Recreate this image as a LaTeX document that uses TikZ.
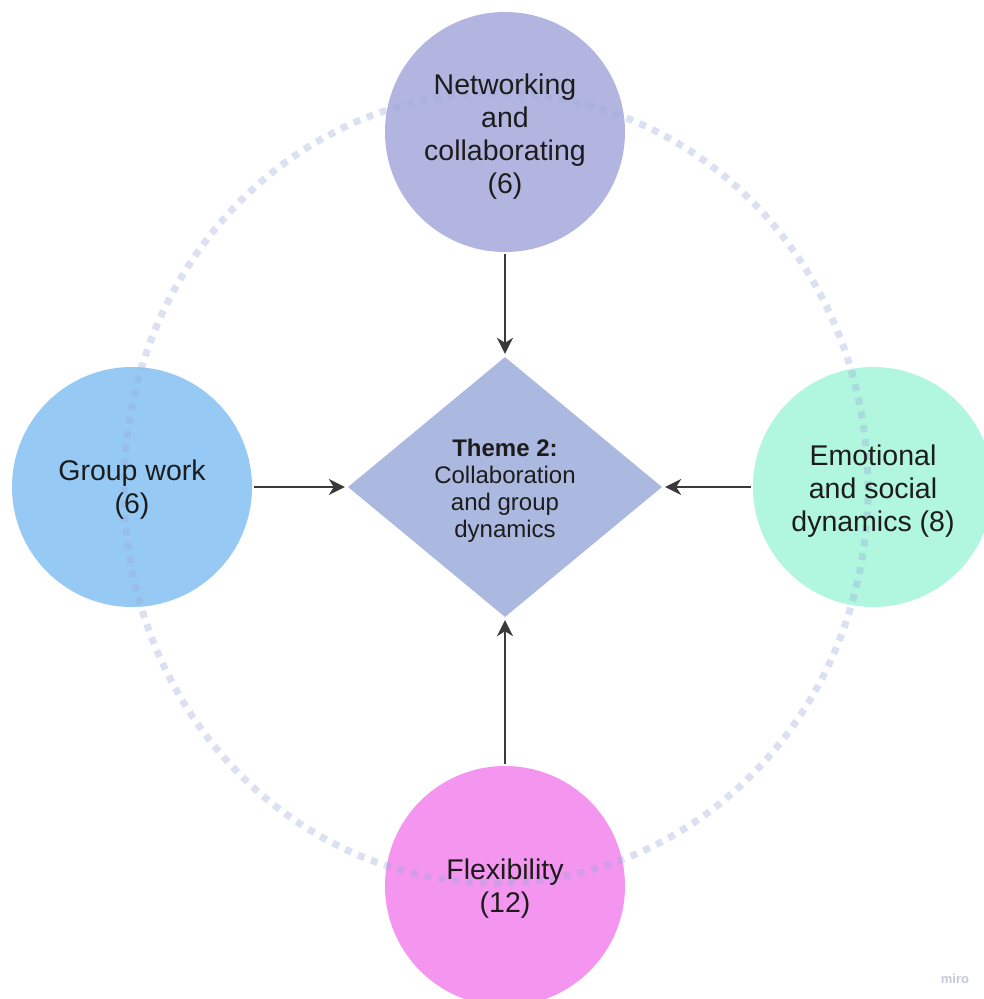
\documentclass[tikz,border=0pt]{standalone}
\usepackage{fontspec}
\setmainfont{Liberation Sans}
\usetikzlibrary{shapes.geometric,arrows.meta}
\pgfdeclarelayer{fills}
\pgfdeclarelayer{ring}
\pgfsetlayers{fills,ring,main}
\definecolor{netc}{HTML}{B3B5E1}
\definecolor{groupc}{HTML}{96CAF4}
\definecolor{emoc}{HTML}{B1F6DF}
\definecolor{flexc}{HTML}{F496EF}
\definecolor{themec}{HTML}{ABB8DF}
\definecolor{ringc}{HTML}{9AAAD8}
\definecolor{inkc}{HTML}{1C1C1C}
\definecolor{arrc}{HTML}{3A3A3A}
\definecolor{markc}{HTML}{C5C8D6}
\tikzset{
  bubble/.style={circle, minimum size=240pt, inner sep=0pt},
  bubbletext/.style={align=center, inner sep=0pt, text=inkc,
    font=\fontsize{28.5}{33}\selectfont},
  themebox/.style={diamond, fill=themec, minimum width=314pt, minimum height=260pt,
    inner sep=0pt},
  themetext/.style={align=center, inner sep=0pt, text=inkc,
    font=\fontsize{24}{27}\selectfont},
  arr/.style={draw=arrc, line width=2pt,
    -{Stealth[length=16pt, width=16pt, inset=5pt]},
    shorten <=2pt, shorten >=3pt},
  ringline/.style={draw=ringc, opacity=0.35, line width=7pt,
    dash pattern=on 7pt off 7pt}
}
\begin{document}
\begin{tikzpicture}[x=1pt, y=-1pt]
  \useasboundingbox (0,0) rectangle (983,999);

  % outer topic circles
  \node[bubble] (net) at (505,132) {};
  \node[bubble] (group) at (132,487) {};
  \node[bubble] (emo) at (873,487) {};
  \node[bubble] (flex) at (505,886) {};

  % circle fills below the dotted ring
  \begin{pgfonlayer}{fills}
    \fill[netc] (net.center) circle (120pt);
    \fill[groupc] (group.center) circle (120pt);
    \fill[emoc] (emo.center) circle (120pt);
    \fill[flexc] (flex.center) circle (120pt);
  \end{pgfonlayer}

  % dotted ring through the four topics
  \begin{pgfonlayer}{ring}
    \coordinate (ringc) at (496,488);
    \draw[ringline] (ringc) ellipse [x radius=372pt, y radius=395pt];
  \end{pgfonlayer}

  % topic labels
  \node[bubbletext] (net-t) at ([yshift=-5pt]net.center) {Networking\\and\\collaborating\\(6)};
  \node[bubbletext] (group-t) at ([yshift=-3pt]group.center) {Group work\\(6)};
  \node[bubbletext] (emo-t) at ([yshift=-4pt]emo.center) {Emotional\\and social\\dynamics (8)};
  \node[bubbletext] (flex-t) at ([yshift=-3pt]flex.center) {Flexibility\\(12)};

  % central theme
  \node[themebox] (theme) at (505,487) {};
  \node[themetext] (theme-t) at ([yshift=-4pt]theme.center)
    {\textbf{Theme 2:}\\Collaboration\\and group\\dynamics};

  % connectors
  \draw[arr] (net.south) -- (theme.north);
  \draw[arr] (group.east) -- (theme.west);
  \draw[arr] (emo.west) -- (theme.east);
  \draw[arr] (flex.north) -- (theme.south);

  \node[text=markc, font=\fontsize{13}{15}\selectfont\bfseries] (mark) at (955,979) {miro};
\end{tikzpicture}
\end{document}
